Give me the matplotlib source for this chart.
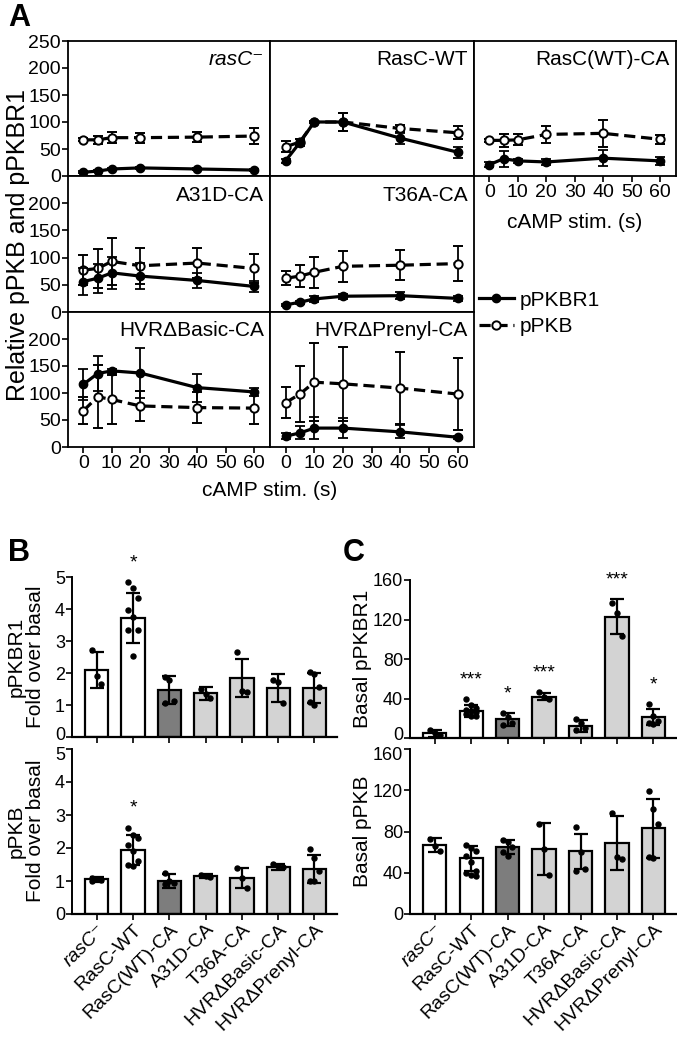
import matplotlib
matplotlib.use("Agg")
import matplotlib.pyplot as plt
from matplotlib.lines import Line2D
from matplotlib.transforms import ScaledTranslation
import numpy as np

plt.rcParams["font.family"] = ["Liberation Sans", "DejaVu Sans"]
NARROW = ["Liberation Sans Narrow", "Liberation Sans", "DejaVu Sans"]

# ---- panel A: time courses ----
times = [0, 5, 10, 20, 40, 60]
a_titles = ["rasC⁻", "RasC-WT", "RasC(WT)-CA", "A31D-CA", "T36A-CA",
            "HVRΔBasic-CA", "HVRΔPrenyl-CA"]

pkbr1 = [
    [7, 9, 13, 15, 13, 11],
    [28, 62, 100, 100, 70, 44],
    [21, 32, 28, 26, 33, 28],
    [56, 62, 72, 66, 58, 47],
    [13, 18, 24, 29, 30, 25],
    [116, 136, 141, 137, 110, 102],
    [20, 26, 35, 35, 28, 18],
]
pkbr1_err = [
    [2, 2, 2, 2, 2, 2],
    [3, 6, 2, 16, 10, 10],
    [5, 15, 3, 5, 15, 8],
    [25, 27, 30, 24, 14, 10],
    [2, 3, 6, 5, 6, 5],
    [29, 33, 4, 46, 26, 8],
    [6, 12, 20, 18, 12, 3],
]
pkb = [
    [67, 67, 71, 71, 72, 74],
    [54, 63, 100, 100, 88, 80],
    [66, 66, 67, 77, 79, 68],
    [77, 80, 93, 85, 90, 80],
    [62, 66, 73, 84, 86, 89],
    [67, 93, 88, 76, 73, 72],
    [82, 98, 120, 117, 109, 98],
]
pkb_err = [
    [3, 8, 10, 9, 9, 14],
    [10, 5, 2, 16, 6, 12],
    [3, 12, 10, 15, 25, 8],
    [28, 35, 43, 33, 28, 27],
    [13, 20, 28, 28, 28, 32],
    [25, 58, 45, 28, 28, 30],
    [29, 52, 72, 68, 67, 67],
]

# ---- panels B and C: bars ----
strains = ["rasC⁻", "RasC-WT", "RasC(WT)-CA", "A31D-CA", "T36A-CA",
           "HVRΔBasic-CA", "HVRΔPrenyl-CA"]
bar_colors = ["white", "white", "#7d7d7d", "#d3d3d3", "#d3d3d3", "#d3d3d3", "#d3d3d3"]

fold_r1 = [2.1, 3.72, 1.47, 1.36, 1.84, 1.54, 1.53]
fold_r1_sd = [0.57, 0.78, 0.44, 0.19, 0.59, 0.44, 0.47]
fold_r1_pts = [[2.72, 1.92, 1.67],
               [4.84, 4.67, 4.33, 3.98, 3.76, 3.33, 3.33, 2.52],
               [1.88, 1.77, 1.12, 1.05],
               [1.5, 1.35, 1.22],
               [2.66, 1.45, 1.40],
               [1.77, 1.73, 1.06],
               [2.03, 1.96, 1.57, 1.1, 1.0]]
fold_r1_stars = ["", "*", "", "", "", "", ""]

fold_pkb = [1.05, 1.95, 1.0, 1.15, 1.1, 1.43, 1.37]
fold_pkb_sd = [0.07, 0.45, 0.2, 0.05, 0.3, 0.1, 0.42]
fold_pkb_pts = [[1.1, 1.05, 1.02, 1.0],
                [2.62, 2.4, 2.3, 2.1, 1.9, 1.6, 1.5, 1.45],
                [1.25, 1.0, 0.95, 0.92],
                [1.17, 1.15, 1.13],
                [1.4, 1.1, 0.8],
                [1.52, 1.45, 1.42],
                [1.97, 1.7, 1.3, 1.0, 1.0]]
fold_pkb_stars = ["", "*", "", "", "", "", ""]

basal_r1 = [5, 27, 19, 42, 12, 123, 21]
basal_r1_sd = [3.5, 6, 6.5, 4, 6, 18, 8]
basal_r1_pts = [[8, 5, 3],
                [40, 33, 30, 28, 27, 26, 24, 22, 22],
                [25, 21, 15, 13],
                [47, 42, 40],
                [19, 15, 10, 8],
                [137, 127, 103],
                [34, 22, 17, 15, 14]]
basal_r1_stars = ["", "***", "*", "***", "", "***", "*"]

basal_pkb = [67, 54, 65, 63, 61, 69, 83]
basal_pkb_sd = [7, 12, 7, 25, 17, 26, 29]
basal_pkb_pts = [[73, 66, 61],
                 [67, 64, 61, 56, 50, 42, 40, 38, 37],
                 [72, 70, 65, 60, 56],
                 [87, 63, 38],
                 [84, 60, 44, 42],
                 [98, 55, 53],
                 [119, 102, 87, 55, 54]]
basal_pkb_stars = ["", "", "", "", "", "", ""]

W, H = 677, 1038
fig = plt.figure(figsize=(W / 100, H / 100), dpi=100)


def box(x0, y0, x1, y1):
    return [x0 / W, 1 - y1 / H, (x1 - x0) / W, (y1 - y0) / H]


# grid of panel A (pixel edges)
cols = [(68, 270), (270, 474), (474, 676)]
rows = [(41, 176), (176, 312), (312, 447)]
slots = [(0, 0), (0, 1), (0, 2), (1, 0), (1, 1), (2, 0), (2, 1)]

for k, (r, c) in enumerate(slots):
    ax = fig.add_axes(box(cols[c][0], rows[r][0], cols[c][1], rows[r][1]))
    ax.errorbar(times, pkb[k], yerr=pkb_err[k], color="k", ls=(0, (3.5, 1.8)),
                lw=2.3, marker="o", ms=6, mfc="white", mec="k", mew=1.4,
                elinewidth=1.3, capsize=3.5, capthick=1.3, zorder=3)
    ax.errorbar(times, pkbr1[k], yerr=pkbr1_err[k], color="k", ls="-",
                lw=2.3, marker="o", ms=6, mfc="k", mec="k",
                elinewidth=1.3, capsize=3.5, capthick=1.3, zorder=4)
    ax.set_xlim(-5.4, 65.6)
    ax.set_ylim(0, 250)
    for sp in ax.spines.values():
        sp.set_linewidth(1.3)
    ax.text(0.97, 0.93, a_titles[k], transform=ax.transAxes, ha="right", va="top",
            fontsize=15, fontstyle="italic" if k == 0 else "normal")
    if c == 0:
        ax.set_yticks([0, 50, 100, 150, 200, 250] if r == 0 else [0, 50, 100, 150, 200])
        ax.tick_params(axis="y", direction="out", length=4, width=1.2,
                       labelsize=14, pad=1, labelfontfamily=NARROW)
    else:
        ax.set_yticks([])
    if r == 2 or (r, c) == (0, 2):
        ax.set_xticks(range(0, 61, 10))
        ax.tick_params(axis="x", direction="out", length=4, width=1.2,
                       labelsize=14, pad=2, labelfontfamily=NARROW)
    else:
        ax.set_xticks([])

fig.text(18 / W, 1 - 245 / H, "Relative pPKB and pPKBR1", rotation=90,
         ha="center", va="center", fontsize=18)
fig.text(270 / W, 1 - 491 / H, "cAMP stim. (s)", ha="center", va="center", fontsize=15)
fig.text(575 / W, 1 - 222 / H, "cAMP stim. (s)", ha="center", va="center", fontsize=15)

handles = [
    Line2D([], [], color="k", lw=2.3, marker="o", ms=6, mfc="k", label="pPKBR1"),
    Line2D([], [], color="k", lw=2.3, ls=(0, (3.5, 1.8)), marker="o", ms=6,
           mfc="white", mew=1.4, label="pPKB"),
]
fig.legend(handles=handles, loc="upper left", bbox_to_anchor=(460 / W, 1 - 272 / H),
           frameon=False, fontsize=15, handlelength=1.7, handletextpad=0.25,
           labelspacing=0.35)


def bar_panel(rect, means, sds, pts, stars, ylim, yticks, show_labels):
    ax = fig.add_axes(rect)
    x = np.arange(len(means))
    ax.bar(x, means, width=0.64, color=bar_colors, edgecolor="k", linewidth=1.6, zorder=2)
    ax.errorbar(x, means, yerr=sds, fmt="none", ecolor="k", elinewidth=1.6,
                capsize=5, capthick=1.6, zorder=3)
    for i, p in enumerate(pts):
        offs = ((np.arange(len(p)) % 3) - 1) * 0.13
        ax.plot(i + offs, p, "o", color="k", ms=3.6, zorder=4)
    span = ylim[1] - ylim[0]
    for i, s in enumerate(stars):
        if s:
            top = max(means[i] + sds[i], max(pts[i]))
            ax.text(i, top + span * 0.12, s, ha="center", va="center", fontsize=14)
    ax.set_xlim(-0.68, 6.62)
    ax.set_ylim(*ylim)
    ax.set_yticks(yticks)
    ax.set_xticks(x)
    ax.spines[["top", "right"]].set_visible(False)
    ax.spines["left"].set_linewidth(1.4)
    ax.spines["bottom"].set_linewidth(1.6)
    ax.tick_params(direction="out", length=4, width=1.2, labelsize=13, pad=1,
                   labelfontfamily=NARROW)
    if show_labels:
        ax.set_xticklabels(strains, rotation=45, ha="right", rotation_mode="anchor",
                           fontsize=14)
        ax.get_xticklabels()[0].set_fontstyle("italic")
        # nudge the top tick label down so it clears the panel above
        lab = ax.yaxis.get_major_ticks()[-1].label1
        lab.set_transform(lab.get_transform() + ScaledTranslation(0, -0.04, fig.dpi_scale_trans))
    else:
        ax.set_xticklabels([])
        lab = ax.yaxis.get_major_ticks()[0].label1
        lab.set_transform(lab.get_transform() + ScaledTranslation(0, 0.04, fig.dpi_scale_trans))
    return ax


bar_panel(box(72, 577, 337, 737), fold_r1, fold_r1_sd, fold_r1_pts, fold_r1_stars,
          (0, 5), range(6), False)
bar_panel(box(72, 749, 337, 914), fold_pkb, fold_pkb_sd, fold_pkb_pts, fold_pkb_stars,
          (0, 5), range(6), True)
bar_panel(box(410, 580, 676, 738), basal_r1, basal_r1_sd, basal_r1_pts, basal_r1_stars,
          (0, 160), [0, 40, 80, 120, 160], False)
bar_panel(box(410, 749, 676, 914), basal_pkb, basal_pkb_sd, basal_pkb_pts, basal_pkb_stars,
          (0, 160), [0, 40, 80, 120, 160], True)

fig.text(26 / W, 1 - 657 / H, "pPKBR1\nFold over basal", rotation=90, ha="center",
         va="center", fontsize=15, linespacing=1.05)
fig.text(26 / W, 1 - 831 / H, "pPKB\nFold over basal", rotation=90, ha="center",
         va="center", fontsize=15, linespacing=1.05)
fig.text(363 / W, 1 - 659 / H, "Basal pPKBR1", rotation=90, ha="center",
         va="center", fontsize=15)
fig.text(363 / W, 1 - 831 / H, "Basal pPKB", rotation=90, ha="center",
         va="center", fontsize=15)

fig.text(8 / W, 1 - 18 / H, "A", fontsize=22, fontweight="bold", va="center")
fig.text(8 / W, 1 - 553 / H, "B", fontsize=22, fontweight="bold", va="center")
fig.text(343 / W, 1 - 553 / H, "C", fontsize=22, fontweight="bold", va="center")

fig.savefig("out.png", dpi=100)
